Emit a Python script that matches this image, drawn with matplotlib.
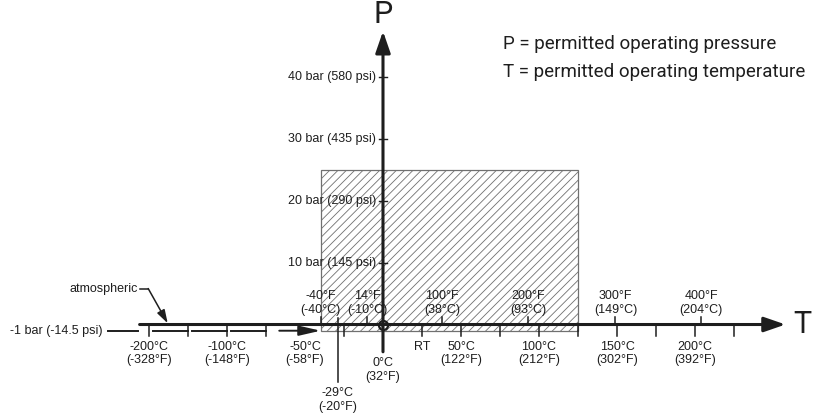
import matplotlib.pyplot as plt
from matplotlib.patches import Rectangle

plt.rcParams['font.family'] = ['Liberation Sans', 'DejaVu Sans']
plt.rcParams['hatch.linewidth'] = 0.6
plt.rcParams['hatch.color'] = '#8a8a8a'

# permitted operating range
t_min, t_max = -40, 125      # °C
p_min, p_max = -1, 25        # bar

# pressure axis ticks
p_ticks = [10, 20, 30, 40]
p_psi = [145, 290, 435, 580]

# temperature ticks below the axis (°C), linear part
c_ticks = [-25, 25, 50, 75, 100, 125, 150, 175, 200, 225]
c_labels = [-50, 50, 100, 150, 200]
c_labels_f = [-58, 122, 212, 302, 392]
# compressed (broken) part of the axis
cold_ticks = [-200, -150, -100, -50]
cold_labels = [-200, -100]
cold_labels_f = [-328, -148]

# Fahrenheit marks above the axis
f_ticks = [-40, 14, 100, 200, 300, 400]
f_ticks_c = [-40, -10, 38, 93, 149, 204]

t_min_seal, t_min_seal_f = -29, -20
rt = 25

ink = '#1e1e1e'
fs = 9


def xpos(t, broken=False):
    # the cold side of the axis is drawn at half scale
    return -75 + 0.5 * (t + 50) if broken else t


fig = plt.figure(figsize=(8.17, 4.19), dpi=100)
ax = fig.add_axes([0, 0, 1, 1])
ax.set_xlim(-245.5, 278.2)
ax.set_ylim(-15.24, 52.34)
ax.axis('off')

# hatched permitted area
ax.add_patch(Rectangle((t_min, p_min), t_max - t_min, p_max - p_min,
                       facecolor='none', edgecolor='#707070', hatch='////', lw=0.9, zorder=1))

# main axes with arrows
arrow = dict(arrowstyle='-|>,head_length=1.3,head_width=0.45', lw=2.2, color=ink,
             shrinkA=0, shrinkB=0)
ax.annotate('', xy=(258, 0), xytext=(xpos(-212, True), 0), arrowprops=arrow, zorder=5)
ax.annotate('', xy=(0, 47.3), xytext=(0, -4.4), arrowprops=arrow, zorder=5)
ax.text(269, 0, 'T', fontsize=22, ha='center', va='center', color=ink,
        family=['Roboto', 'DejaVu Sans'])
ax.text(0, 50.0, 'P', fontsize=22, ha='center', va='center', color=ink,
        family=['Roboto', 'DejaVu Sans'])
ax.plot([0], [0], 'o', ms=6.5, mfc='none', mec=ink, mew=1.6, zorder=6)

# pressure ticks
for p, psi in zip(p_ticks, p_psi):
    ax.plot([-2.5, 2.5], [p, p], color=ink, lw=1.0, zorder=6)
    ax.text(-4.5, p, f'{p} bar ({psi} psi)', fontsize=fs, ha='right', va='center', color=ink)

# -1 bar line, dashed under the cold side
y_atm = -1
ax.plot([xpos(-253, True), xpos(-214, True)], [y_atm, y_atm], color=ink, lw=1.4)
ax.text(xpos(-259, True), y_atm, '-1 bar (-14.5 psi)', fontsize=fs, ha='right', va='center',
        color=ink)
for a, b in zip(cold_ticks[:-1], cold_ticks[1:]):
    ax.plot([xpos(a, True) + 2.5, xpos(b, True)], [y_atm, y_atm], color=ink, lw=1.4)
ax.annotate('', xy=(t_min, y_atm), xytext=(xpos(-50, True) + 8.5, y_atm),
            arrowprops=dict(arrowstyle='-|>,head_length=1.3,head_width=0.3', lw=1.4,
                            color=ink, shrinkA=0, shrinkB=0))

# ticks below the axis
for t in cold_ticks:
    ax.plot([xpos(t, True)] * 2, [0, -1.8], color=ink, lw=1.1)
for t in c_ticks:
    ax.plot([t, t], [0, -1.8], color=ink, lw=1.1)
for t, f in zip(cold_labels, cold_labels_f):
    ax.text(xpos(t, True), -2.6, f'{t}°C\n({f}°F)', fontsize=fs, ha='center', va='top',
            color=ink, linespacing=1.2)
for t, f in zip(c_labels, c_labels_f):
    ax.text(t, -2.6, f'{t}°C\n({f}°F)', fontsize=fs, ha='center', va='top',
            color=ink, linespacing=1.2)
ax.text(rt, -2.6, 'RT', fontsize=fs, ha='center', va='top', color=ink)
ax.text(0, -5.2, '0°C\n(32°F)', fontsize=fs, ha='center', va='top', color=ink, linespacing=1.2)

# minimum seal temperature line
ax.plot([t_min_seal] * 2, [1.0, -9.3], color=ink, lw=1.1)
ax.text(t_min_seal, -10.1, f'{t_min_seal}°C\n({t_min_seal_f}°F)', fontsize=fs, ha='center',
        va='top', color=ink, linespacing=1.2)

# Fahrenheit marks above the axis
for f, c in zip(f_ticks, f_ticks_c):
    ax.plot([c, c], [0, 1.2], color=ink, lw=1.1)
    ax.text(c, 1.4, f'{f}°F\n({c}°C)', fontsize=fs, ha='center', va='bottom',
            color=ink, linespacing=1.2)

# atmospheric callout
ax.text(xpos(-214, True), 5.8, 'atmospheric', fontsize=fs, ha='right', va='center', color=ink)
ax.plot([xpos(-211, True), xpos(-201, True)], [5.8, 5.8], color=ink, lw=1.1)
ax.annotate('', xy=(xpos(-176, True), 0.2), xytext=(xpos(-201, True), 5.8),
            arrowprops=dict(arrowstyle='-|>,head_length=0.8,head_width=0.25', lw=1.1,
                            color=ink, shrinkA=0, shrinkB=0))

# legend text
ax.text(77, 45.2, 'P = permitted operating pressure', fontsize=13.5, ha='left', va='center',
        color=ink, family=['Roboto', 'DejaVu Sans'])
ax.text(77, 40.8, 'T = permitted operating temperature', fontsize=13.5, ha='left', va='center',
        color=ink, family=['Roboto', 'DejaVu Sans'])

fig.savefig('out.png', dpi=100)
